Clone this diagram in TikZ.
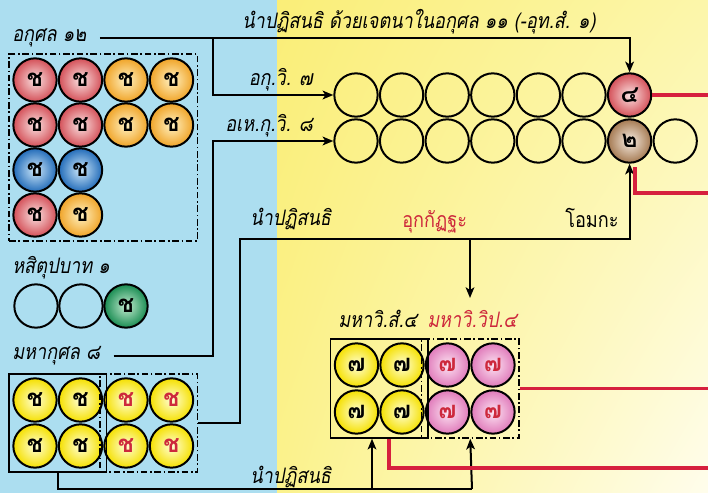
\documentclass[tikz,border=0pt]{standalone}
\usepackage{fontspec}
\newfontfamily\thaifont[Script=Thai]{Loma}
\newfontfamily\thaicond[Script=Thai,FakeStretch=0.85]{Loma}
\usetikzlibrary{arrows.meta,fit,shadings}

\definecolor{bgblue}{RGB}{172,222,240}
\definecolor{yelA}{RGB}{250,238,120}
\definecolor{yelB}{RGB}{252,246,170}
\definecolor{yelC}{RGB}{251,242,140}
\definecolor{yelD}{RGB}{255,253,236}
\definecolor{linered}{RGB}{214,32,62}
\definecolor{txtred}{RGB}{205,40,60}

\tikzset{
  wire/.style={line width=1.5pt,draw=black},
  arr/.style={wire,-{Stealth[length=8pt,width=6.5pt,inset=2pt]}},
  redwire/.style={line width=2.8pt,draw=linered},
  lbl/.style={font=\thaicond\itshape\fontsize{16}{19}\selectfont,inner sep=0pt},
  lblup/.style={font=\thaicond\fontsize{16}{19}\selectfont,inner sep=0pt},
  ball/.style={circle,draw=black,line width=1.5pt,minimum size=32.5pt,inner sep=0pt,
    font=\thaifont\bfseries\fontsize{18}{18}\selectfont},
  redball/.style={inner color={rgb,255:red,250;green,226;blue,226},outer color={rgb,255:red,212;green,80;blue,88}},
  orangeball/.style={inner color={rgb,255:red,255;green,242;blue,195},outer color={rgb,255:red,240;green,164;blue,40}},
  blueball/.style={inner color={rgb,255:red,205;green,232;blue,250},outer color={rgb,255:red,35;green,108;blue,185}},
  greenball/.style={inner color={rgb,255:red,195;green,236;blue,208},outer color={rgb,255:red,25;green,140;blue,82}},
  yellowball/.style={inner color={rgb,255:red,255;green,255;blue,215},outer color={rgb,255:red,245;green,224;blue,0}},
  pinkball/.style={inner color={rgb,255:red,252;green,228;blue,242},outer color={rgb,255:red,224;green,122;blue,186}},
  brownball/.style={inner color={rgb,255:red,246;green,236;blue,226},outer color={rgb,255:red,165;green,122;blue,82}},
  dashbox/.style={draw,line width=1.1pt,dash pattern=on 5pt off 2pt on 1.2pt off 2pt,inner sep=2.5pt},
  solidbox/.style={draw,line width=1.1pt,inner sep=2.5pt}
}

\begin{document}
\begin{tikzpicture}[x=0.75pt,y=-0.75pt]
 \useasboundingbox (0,0) rectangle (708,493);
 % background
 \fill[bgblue] (0,0) rectangle (277,493);
 \shade[upper left=yelA,upper right=yelB,lower left=yelC,lower right=yelD] (277,0) rectangle (708,493);
 \coordinate (R) at (708,0);

 % akusala 12
 \node[lbl,anchor=west] (akusala) at (12,38) {อกุศล ๑๒};
 \foreach \n/\x/\y/\s in {a11/35/80/redball, a12/80.5/80/redball, a13/126/80/orangeball, a14/171.5/80/orangeball,
   a21/35/125/redball, a22/80.5/125/redball, a23/126/125/orangeball, a24/171.5/125/orangeball,
   a31/35/170/blueball, a32/80.5/170/blueball, a41/35/215/redball, a42/80.5/215/orangeball}
   \node[ball,\s] (\n) at (\x,\y) {ช};
 \node[dashbox,fit=(a11)(a14)(a41)] (akbox) {};

 % hasituppada
 \node[lbl,anchor=base west] (hasit) at (12,273) {หสิตุปบาท ๑};
 \node[ball] (h1) at (36,306) {};
 \node[ball] (h2) at (81,306) {};
 \node[ball,greenball] (h3) at (126,306) {ช};

 % mahakusala 8
 \node[lbl,anchor=west] (mk) at (12,356) {มหากุศล ๘};
 \foreach \n/\x/\y/\c in {m11/35/400/black, m12/80.5/400/black, m13/126/400/txtred, m14/171.5/400/txtred,
   m21/35/446/black, m22/80.5/446/black, m23/126/446/txtred, m24/171.5/446/txtred}
   \node[ball,yellowball,text=\c] (\n) at (\x,\y) {ช};
 \node[solidbox,fit=(m11)(m22)] (mkS) {};
 \node[dashbox,fit=(m13)(m24)] (mkD) {};

 % rows of vipaka
 \foreach \i in {1,...,6} \node[ball] (t\i) at ({356+45.6*(\i-1)},95) {};
 \node[ball,redball] (t7) at (629.6,95) {๔};
 \foreach \i in {1,...,6} \node[ball] (b\i) at ({356+45.6*(\i-1)},141) {};
 \node[ball,brownball] (b7) at (629.6,141) {๒};
 \node[ball] (b8) at (675.2,141) {};
 \node[lbl,anchor=base east] (akv) at (313,85) {อกุ.วิ. ๗};
 \node[lbl,anchor=base east] (ahkv) at (313,131) {อเห.กุ.วิ. ๘};

 % mahavipaka
 \node[lbl,anchor=base west] (mvs) at (338,327) {มหาวิ.สํ.๔};
 \node[lbl,anchor=base west,text=txtred] (mvv) at (427,327) {มหาวิ.วิป.๔};
 \foreach \n/\x/\y/\s/\c in {v11/356.5/365/yellowball/black, v12/402/365/yellowball/black,
   v13/447.5/365/pinkball/txtred, v14/493/365/pinkball/txtred,
   v21/356.5/412/yellowball/black, v22/402/412/yellowball/black,
   v23/447.5/412/pinkball/txtred, v24/493/412/pinkball/txtred}
   \node[ball,\s,text=\c] (\n) at (\x,\y) {๗};
 \node[solidbox,fit=(v11)(v22)] (mvS) {};
 \node[dashbox,fit=(v13)(v24)] (mvD) {};

 % connectors
 \coordinate (jA) at (213,38);
 \coordinate (jB) at (213,141);
 \coordinate (jC) at (240,239);
 \coordinate (jD) at (470,239);
 \coordinate (jE) at (472,489);
 \coordinate (jF) at (372,489);
 \node[lbl,anchor=base west] (toplbl) at (242,28) {นำปฏิสนธิ ด้วยเจตนาในอกุศล ๑๑ (-อุท.สํ. ๑)};
 \draw[arr] ([xshift=10pt]akusala.east) -| (t7.north);
 \draw[arr] (jA) |- (t1.west);
 \draw[arr] ([xshift=10pt]mk.east) -| (jB) -- (b1.west);
 \draw[arr] (mkD.east) -| (jC) -| (b7.south);
 \node[lbl,anchor=base west] (pat1) at (250,225) {นำปฏิสนธิ};
 \node[lblup,anchor=base west,text=txtred] (ukk) at (402,227) {อุกกัฏฐะ};
 \node[lblup,anchor=base west] (omaka) at (565,227) {โอมกะ};
 \draw[arr] (jD) -- (jD |- 0,298);
 \draw[wire] (mkS.south) |- (jE);
 \draw[arr] (jE) -- (mvD.south);
 \draw[arr] (jF) -- (jF |- mvS.south);
 \node[lbl,anchor=base west] (pat2) at (250,483) {นำปฏิสนธิ};

 % red lines
 \draw[redwire] (t7.east) -- (t7.east -| R);
 \draw[redwire] (635,167) |- (708,193);
 \draw[redwire] (mvD.east) -- (mvD.east -| R);
 \draw[redwire] (389,439) |- (708,468);
\end{tikzpicture}
\end{document}
